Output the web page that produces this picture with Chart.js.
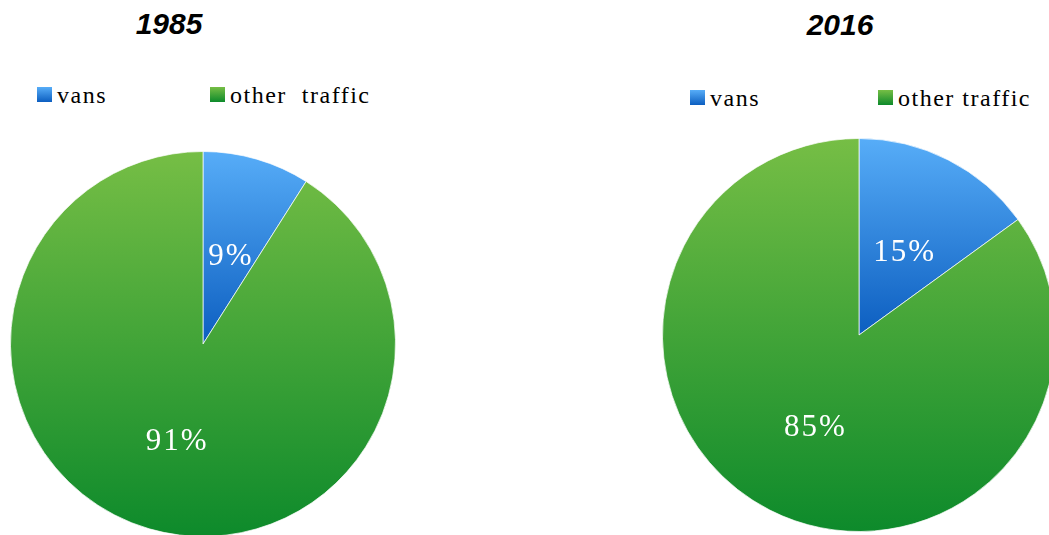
<!DOCTYPE html>
<html>
<head>
<meta charset="utf-8">
<script src="https://cdn.jsdelivr.net/npm/chart.js@4.4.1/dist/chart.umd.min.js"></script>
<style>
  html, body { margin: 0; padding: 0; background: #fff; width: 1049px; height: 535px; overflow: hidden; }
  .wrap { position: absolute; }
  .title { position: absolute; font: italic bold 30px "Liberation Sans", Arial, sans-serif; color: #000; transform: translateX(-50%); white-space: nowrap; }
  .legend { position: absolute; font-family: "Liberation Serif", Tinos, "Times New Roman", Times, serif; font-size: 24px; color: #000; letter-spacing: 1.5px; white-space: pre; line-height: 1; }
  .box { position: absolute; width: 15px; height: 15px; }
</style>
</head>
<body>
<div id="root"></div>
<script>
// chart data
const categories = ['vans', 'other traffic'];
const years = ['1985', '2016'];
const values1985 = [9, 91];
const values2016 = [15, 85];
const legendText = [['vans', 'other  traffic'], ['vans', 'other traffic']];

const blueTop = '#57adf8', blueBottom = '#0c5ec0';
const greenTop = '#76be45', greenBottom = '#0d8a2b';
const serif = '"Liberation Serif", Tinos, "Times New Roman", Times, serif';

// placement of each pie (canvas box) and its title / legend
const panels = [
  { left: 10, top: 151, size: 386, titleX: 169, titleY: 7, legendY: 87, legendX: [37, 210] },
  { left: 662, top: 138, size: 394, titleX: 840, titleY: 8, legendY: 90, legendX: [690, 878] }
];

function makeGradient(ctx, y0, y1, c0, c1) {
  const g = ctx.createLinearGradient(0, y0, 0, y1);
  g.addColorStop(0, c0);
  g.addColorStop(1, c1);
  return g;
}

const pctLabels = {
  id: 'pctLabels',
  afterDatasetsDraw(chart) {
    const ctx = chart.ctx;
    const meta = chart.getDatasetMeta(0);
    const data = chart.data.datasets[0].data;
    ctx.save();
    ctx.fillStyle = '#ffffff';
    ctx.font = '31px ' + serif;
    ctx.letterSpacing = '2px';
    ctx.textAlign = 'center';
    ctx.textBaseline = 'middle';
    meta.data.forEach((arc, i) => {
      const p = arc.tooltipPosition();
      ctx.fillText(data[i] + '%', p.x + 1, p.y + 5);
    });
    ctx.restore();
  }
};

const root = document.getElementById('root');
const allValues = [values1985, values2016];

panels.forEach((pn, idx) => {
  const title = document.createElement('div');
  title.className = 'title';
  title.style.left = pn.titleX + 'px';
  title.style.top = pn.titleY + 'px';
  title.textContent = years[idx];
  root.appendChild(title);

  categories.forEach((c, j) => {
    const box = document.createElement('div');
    box.className = 'box';
    box.style.left = pn.legendX[j] + 'px';
    box.style.top = pn.legendY + 'px';
    box.style.background = j === 0
      ? `linear-gradient(${blueTop}, ${blueBottom})`
      : `linear-gradient(${greenTop}, ${greenBottom})`;
    root.appendChild(box);
    const t = document.createElement('div');
    t.className = 'legend';
    t.style.left = (pn.legendX[j] + 20) + 'px';
    t.style.top = (pn.legendY - 4) + 'px';
    t.textContent = legendText[idx][j];
    root.appendChild(t);
  });

  const wrap = document.createElement('div');
  wrap.className = 'wrap';
  wrap.style.left = pn.left + 'px';
  wrap.style.top = pn.top + 'px';
  wrap.style.width = pn.size + 'px';
  wrap.style.height = pn.size + 'px';
  const canvas = document.createElement('canvas');
  wrap.appendChild(canvas);
  root.appendChild(wrap);

  new Chart(canvas, {
    type: 'pie',
    data: {
      labels: categories,
      datasets: [{
        data: allValues[idx],
        backgroundColor: (context) => {
          const chart = context.chart;
          const area = chart.chartArea;
          if (!area) return context.dataIndex === 0 ? blueTop : greenTop;
          const cy = (area.top + area.bottom) / 2;
          if (context.dataIndex === 0) {
            return makeGradient(chart.ctx, area.top, cy, blueTop, blueBottom);
          }
          return makeGradient(chart.ctx, area.top, area.bottom, greenTop, greenBottom);
        },
        borderColor: 'rgba(255,255,255,0.7)',
        borderWidth: 1
      }]
    },
    options: {
      responsive: true,
      maintainAspectRatio: false,
      animation: false,
      layout: { padding: 0 },
      plugins: {
        legend: { display: false },
        title: { display: false },
        tooltip: { enabled: false }
      }
    },
    plugins: [pctLabels]
  });
});
</script>
</body>
</html>
